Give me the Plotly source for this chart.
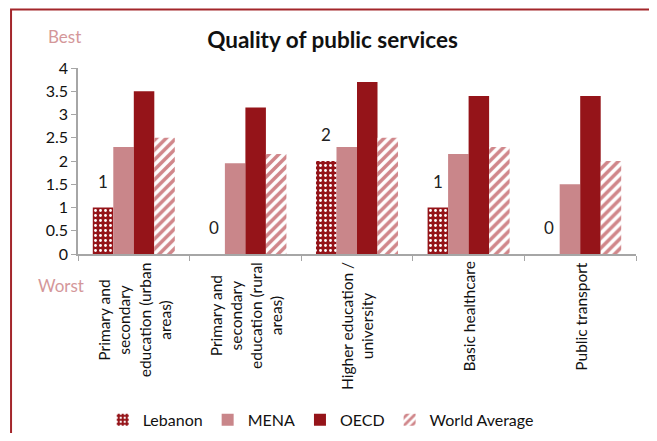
import plotly.graph_objects as go

categories = [
    "Primary and<br>secondary<br>education (urban<br>areas)",
    "Primary and<br>secondary<br>education (rural<br>areas)",
    "Higher education /<br>university",
    "Basic healthcare",
    "Public transport",
]
lebanon = [1, 0, 2, 1, 0]
mena = [2.3, 1.95, 2.3, 2.15, 1.5]
oecd = [3.5, 3.15, 3.7, 3.4, 3.4]
world = [2.5, 2.15, 2.5, 2.3, 2.0]

dark_red = "#951419"
pink = "#C9868A"
stripe = "#D0868A"
font = "Lato"

fig = go.Figure()

fig.add_trace(go.Bar(
    x=categories, y=lebanon, name="Lebanon",
    marker=dict(color=dark_red, line_width=0,
                pattern=dict(shape=".", fgcolor="white", bgcolor=dark_red,
                             size=5, solidity=0.25, fillmode="replace")),
))
fig.add_trace(go.Bar(x=categories, y=mena, name="MENA",
                     marker=dict(color=pink, line_width=0)))
fig.add_trace(go.Bar(x=categories, y=oecd, name="OECD",
                     marker=dict(color=dark_red, line_width=0)))
fig.add_trace(go.Bar(
    x=categories, y=world, name="World Average",
    marker=dict(color=stripe, line_width=0,
                pattern=dict(shape="/", fgcolor=stripe, bgcolor="white",
                             size=7, solidity=0.5, fillmode="replace")),
))

# value labels over the Lebanon bars
for c, v in zip(categories, lebanon):
    fig.add_annotation(x=c, y=v, xref="x", yref="y", text=str(v),
                       showarrow=False, xanchor="center", yanchor="bottom",
                       xshift=-31, yshift=14,
                       font=dict(size=17, color="#222222", family=font))

# category labels, rotated with centred lines
for c in categories:
    fig.add_annotation(x=c, y=0, xref="x", yref="y", text=c, textangle=-90,
                       showarrow=False, xanchor="center", yanchor="top",
                       yshift=-6, align="center",
                       font=dict(size=15.5, color="#111111", family=font))

fig.add_annotation(x=-0.025, y=1.172, xref="paper", yref="paper", text="Best",
                   showarrow=False, xanchor="center", yanchor="middle",
                   font=dict(size=17, color="#D4979A", family=font))
fig.add_annotation(x=-0.03, y=-0.167, xref="paper", yref="paper", text="Worst",
                   showarrow=False, xanchor="center", yanchor="middle",
                   font=dict(size=17, color="#D4979A", family=font))

# frame around the chart
fig.add_shape(type="rect", xref="paper", yref="paper",
              x0=-0.12, x1=1.032, y0=-1.05, y1=1.315,
              line=dict(color="#A3262B", width=2), layer="above")

# page body has an 8px margin, so the figure is kept inside the window
fig.update_layout(
    width=649, height=425,
    margin=dict(l=70, r=21, t=60, b=179, autoexpand=False),
    plot_bgcolor="white", paper_bgcolor="white",
    barmode="group", bargap=0.265, bargroupgap=0,
    font=dict(family=font, color="#111111"),
    title=dict(text="<b>Quality of public services</b>", x=0.5, xanchor="center",
               y=1 - 32 / 425, yanchor="middle",
               font=dict(size=22.5, color="#111111", family=font)),
    legend=dict(orientation="h", x=0.435, xanchor="center",
                y=-0.892, yanchor="middle",
                font=dict(size=16, color="#111111", family=font)),
    showlegend=True,
)
fig.update_xaxes(showticklabels=False, tickson="boundaries", ticks="outside",
                 ticklen=5, tickcolor="#A6A6A6", showline=True,
                 linecolor="#A6A6A6", linewidth=1.5, showgrid=False,
                 automargin=False)
fig.update_yaxes(range=[0, 4], dtick=0.5, ticks="outside", ticklen=5,
                 tickcolor="#A6A6A6", showline=True, linecolor="#A6A6A6",
                 linewidth=1.5, showgrid=False, zeroline=False, automargin=False,
                 tickfont=dict(size=16, color="#111111", family=font))

fig.write_html("out.html")
